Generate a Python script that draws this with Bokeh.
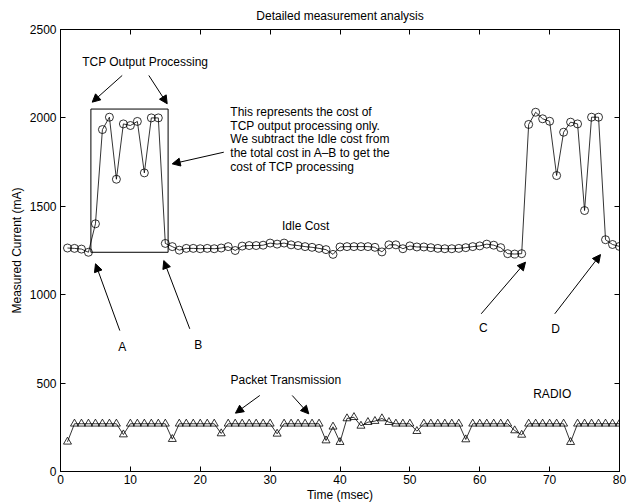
from bokeh.plotting import figure
from bokeh.models import (Range1d, LinearAxis, FixedTicker, Arrow, NormalHead, Label,
                          BoxAnnotation, ColumnDataSource, CustomJSTickFormatter)
from bokeh.embed import file_html
from bokeh.resources import INLINE

# ---------------- data ----------------
time_ms = list(range(1, 81))

cpu_current = [1264, 1262, 1258, 1240, 1401, 1934, 2004, 1653, 1966, 1957,
               1980, 1689, 2000, 2000, 1290, 1272, 1252, 1262, 1262, 1260,
               1262, 1260, 1264, 1272, 1250, 1275, 1278, 1278, 1280, 1292,
               1286, 1292, 1282, 1278, 1272, 1268, 1262, 1255, 1228, 1270,
               1272, 1272, 1272, 1272, 1268, 1242, 1282, 1282, 1260, 1276,
               1270, 1270, 1266, 1262, 1260, 1260, 1262, 1266, 1272, 1276,
               1286, 1280, 1266, 1232, 1230, 1232, 1963, 2032, 1995, 1981,
               1674, 1919, 1976, 1966, 1476, 2004, 2004, 1311, 1284, 1273]

radio_current = [168, 270, 270, 270, 270, 270, 270, 270, 209, 270,
                 270, 270, 270, 270, 270, 183, 270, 270, 270, 270,
                 270, 270, 215, 270, 270, 270, 270, 270, 270, 270,
                 213, 270, 270, 270, 270, 270, 270, 175, 253, 166,
                 300, 307, 258, 279, 285, 300, 279, 270, 270, 270,
                 228, 270, 270, 270, 270, 270, 270, 181, 270, 270,
                 270, 270, 270, 270, 232, 207, 270, 270, 270, 270,
                 270, 270, 166, 270, 270, 270, 270, 270, 270, 270]

x_ticks = [0, 10, 20, 30, 40, 50, 60, 70, 80]
y_ticks = [0, 500, 1000, 1500, 2000, 2500]

title_text = "Detailed measurement analysis"
x_label = "Time (msec)"
y_label = "Measured Current (mA)"
note_lines = ["This represents the cost of",
              "TCP output processing only.",
              "We subtract the Idle cost from",
              "the total cost in A\u2013B to get the",
              "cost of TCP processing"]

FONT = "Liberation Sans"
FS = "12px"

# ---------------- figure ----------------
p = figure(width=629, height=504, output_backend="svg", toolbar_location=None,
           x_range=Range1d(0, 80), y_range=Range1d(0, 2500),
           title=title_text, x_axis_label=x_label, y_axis_label=y_label,
           min_border_left=60, min_border_right=10,
           min_border_top=29, min_border_bottom=30)
p.background_fill_color = "white"
p.border_fill_color = "white"
p.grid.visible = False
p.outline_line_color = "black"
p.outline_line_width = 1

p.title.align = "center"
p.title.vertical_align = "top"
p.title.text_font = FONT
p.title.text_font_size = FS
p.title.text_font_style = "normal"
p.title.text_color = "black"
p.title.standoff = 9


def style_axis(ax, ticks, labels=True):
    ax.ticker = FixedTicker(ticks=ticks)
    ax.axis_line_color = "black"
    ax.major_tick_line_color = "black"
    ax.major_tick_in = 5
    ax.major_tick_out = 0
    ax.minor_tick_line_color = None
    ax.major_label_text_font = FONT
    ax.major_label_text_font_size = FS
    ax.major_label_text_color = "black"
    ax.axis_label_text_font = FONT
    ax.axis_label_text_font_size = FS
    ax.axis_label_text_font_style = "normal"
    ax.axis_label_text_color = "black"
    ax.major_label_standoff = 4
    ax.axis_label_standoff = 3
    if not labels:
        ax.formatter = CustomJSTickFormatter(code="return ''")
        ax.major_label_standoff = 0
        ax.major_label_text_font_size = "0px"


style_axis(p.xaxis[0], x_ticks)
p.xaxis[0].major_label_standoff = 3
p.xaxis[0].axis_label_standoff = 1
style_axis(p.yaxis[0], y_ticks)
p.yaxis[0].major_label_orientation = "horizontal"

top_ax = LinearAxis()
style_axis(top_ax, x_ticks, labels=False)
p.add_layout(top_ax, "above")
right_ax = LinearAxis()
style_axis(right_ax, y_ticks, labels=False)
p.add_layout(right_ax, "right")

# ---------------- series ----------------
src = ColumnDataSource(dict(t=time_ms, cpu=cpu_current, radio=radio_current))
p.line("t", "cpu", source=src, line_color="black", line_width=0.8)
p.scatter("t", "cpu", source=src, marker="circle", size=8, fill_color=None,
          line_color="black", line_width=0.8)
p.line("t", "radio", source=src, line_color="black", line_width=0.8)
p.scatter("t", "radio", source=src, marker="triangle", size=8, fill_color=None,
          line_color="black", line_width=0.8)

# ---------------- annotations ----------------
box = BoxAnnotation(left=4.35, right=15.4, bottom=cpu_current[3], top=2050,
                    fill_alpha=0, line_color="black", line_alpha=1, line_width=1)
p.add_layout(box)

arrows = ColumnDataSource(dict(
    xs=[8.83, 12.64, 23.37, 8.49, 18.5, 60.21, 70.74, 28.52, 33.16],
    ys=[2240, 2240, 1806, 797, 807, 892, 892, 430, 430],
    xe=[4.54, 15.27, 15.99, 5.01, 14.78, 66.55, 77.28, 25.04, 35.53],
    ye=[2089, 2080, 1740, 1175, 1193, 1184, 1227, 330, 326]))
p.add_layout(Arrow(source=arrows, x_start="xs", y_start="ys", x_end="xe", y_end="ye",
                   line_color="black", line_width=1,
                   end=NormalHead(size=8, fill_color="black", line_color="black",
                                  line_width=1)))


def add_label(x, y, text, align="left"):
    p.add_layout(Label(x=x, y=y, text=text, text_font=FONT, text_font_size=FS,
                       text_color="black", text_align=align, text_baseline="middle"))


add_label(3.1, 2319, "TCP Output Processing")
for i, line in enumerate(note_lines):
    add_label(24.3, 2036 - i * 79, line)
add_label(31.7, 1391, "Idle Cost")
add_label(8.83, 703, "A", "center")
add_label(19.71, 713, "B", "center")
add_label(60.5, 813, "C", "center")
add_label(70.84, 807, "D", "center")
add_label(24.33, 520, "Packet Transmission")
add_label(70.37, 439, "RADIO", "center")

open("out.html", "w").write(file_html(p, INLINE))
